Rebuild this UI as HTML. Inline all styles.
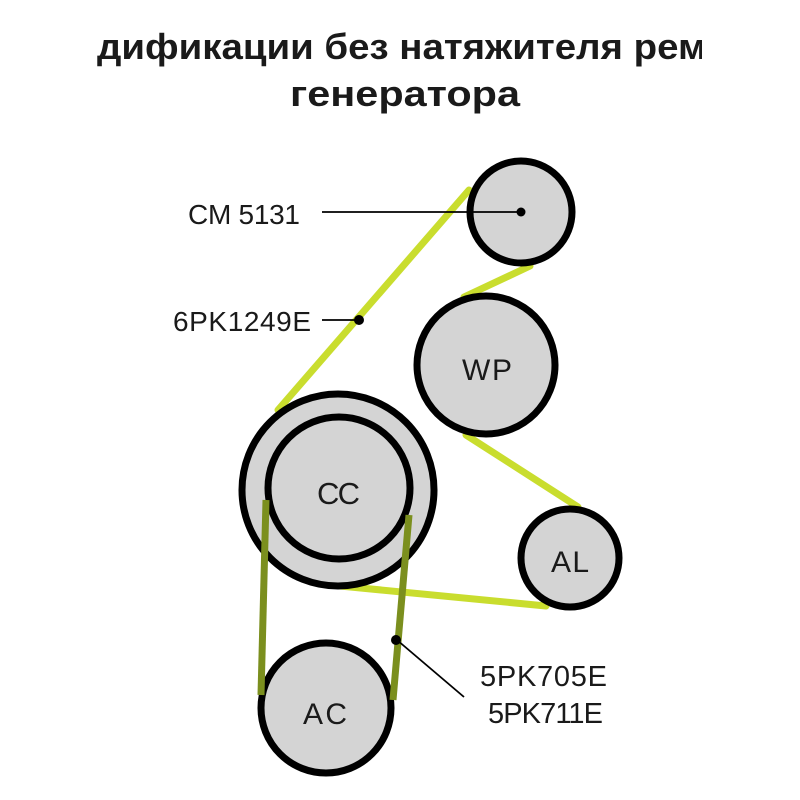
<!DOCTYPE html>
<html><head><meta charset="utf-8"><style>
html,body{margin:0;padding:0;background:#fff;width:800px;height:800px;overflow:hidden}
</style></head><body>
<svg width="800" height="800" xmlns="http://www.w3.org/2000/svg" font-family="Liberation Sans, sans-serif">
<defs><clipPath id="c"><rect x="95" y="0" width="607" height="800"/></clipPath></defs>
<g clip-path="url(#c)"><text x="97" y="59" font-size="36" font-weight="bold" fill="#1a1a1a" textLength="655" lengthAdjust="spacingAndGlyphs">дификации без натяжителя ремня</text></g>
<text x="290" y="106" font-size="36" font-weight="bold" fill="#1a1a1a" textLength="230" lengthAdjust="spacingAndGlyphs">генератора</text>
<g stroke="#c9dd2e" stroke-width="7" fill="none" stroke-linecap="round">
<line x1="469" y1="190" x2="278" y2="410"/>
<line x1="530" y1="266" x2="464" y2="297"/>
<line x1="466" y1="435" x2="578" y2="507"/>
<line x1="340" y1="586" x2="546" y2="606"/>
</g>
<circle cx="521" cy="212" r="51" fill="#d4d4d4" stroke="#000" stroke-width="7"/>
<circle cx="486" cy="365" r="69" fill="#d4d4d4" stroke="#000" stroke-width="7"/>
<circle cx="338" cy="490" r="96" fill="#d4d4d4" stroke="#000" stroke-width="7"/>
<circle cx="339" cy="488" r="71" fill="#d4d4d4" stroke="#000" stroke-width="7"/>
<circle cx="570" cy="558" r="49" fill="#d4d4d4" stroke="#000" stroke-width="7"/>
<circle cx="326" cy="708" r="65" fill="#d4d4d4" stroke="#000" stroke-width="7"/>
<g stroke="#7b8f1e" stroke-width="7" fill="none">
<line x1="266" y1="500" x2="261" y2="695"/>
<line x1="409" y1="515" x2="393" y2="700"/>
</g>
<g stroke="#000" stroke-width="1.8">
<line x1="322" y1="212" x2="521" y2="212"/>
<line x1="322" y1="320" x2="358" y2="320"/>
<line x1="397" y1="640" x2="464" y2="697"/>
</g>
<circle cx="521" cy="212" r="4.5" fill="#000"/>
<circle cx="359" cy="320" r="5" fill="#000"/>
<circle cx="396" cy="640" r="5" fill="#000"/>
<g font-size="28" fill="#1a1a1a" lengthAdjust="spacingAndGlyphs">
<text x="188" y="224" textLength="112">CM 5131</text>
<text x="173" y="331" textLength="138">6PK1249E</text>
<text x="462" y="380" textLength="50" font-size="30">WP</text>
<text x="317" y="504" textLength="43" font-size="31">CC</text>
<text x="551" y="572" textLength="38" font-size="30">AL</text>
<text x="303" y="724" textLength="44" font-size="30">AC</text>
<text x="480" y="686" textLength="127" font-size="29">5PK705E</text>
<text x="488" y="723" textLength="115" font-size="29">5PK711E</text>
</g>
</svg>
</body></html>
